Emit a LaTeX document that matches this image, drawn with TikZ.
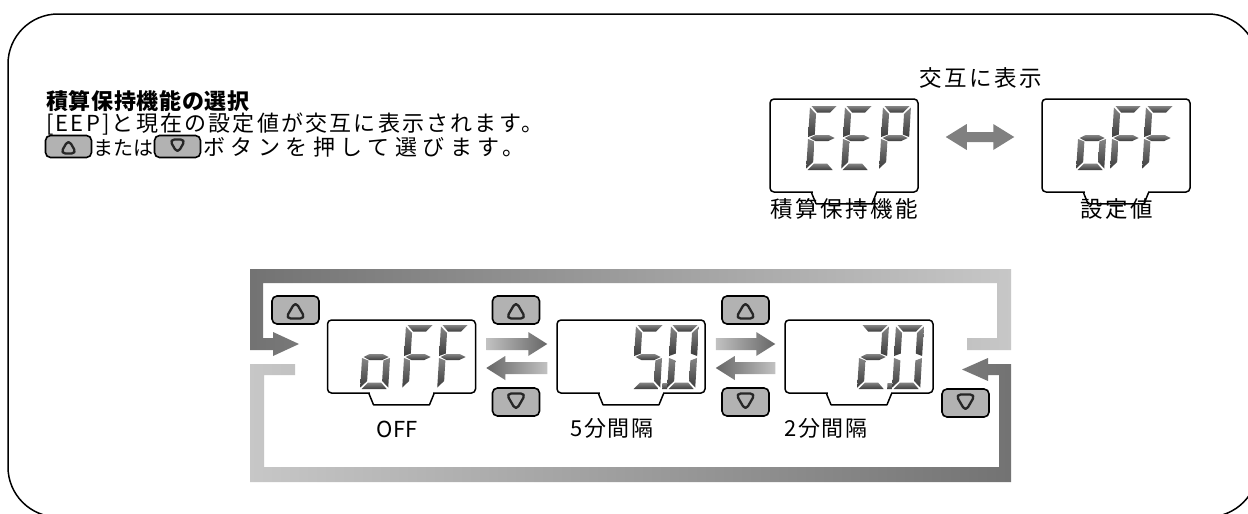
\documentclass[tikz,border=0pt]{standalone}
\usepackage{fontspec}
\setmainfont{Noto Sans CJK JP}
\usetikzlibrary{calc}

\colorlet{loopdark}{black!55}
\colorlet{looplight}{black!22}
\colorlet{arrdark}{black!60}
\colorlet{arrlight}{black!24}
\colorlet{btnfill}{black!30}

% seven segment pieces (px, y downwards)
\def\sega{(1.5,0) -- (26.5,0) -- (20.5,6.5) -- (7.5,6.5) -- cycle}
\def\segb{(28,1.5) -- (21.5,8) -- (21.5,28.5) -- (28,31) -- cycle}
\def\segc{(28,33) -- (21.5,35.5) -- (21.5,56) -- (28,62.5) -- cycle}
\def\segd{(1.5,64) -- (26.5,64) -- (20.5,57.5) -- (7.5,57.5) -- cycle}
\def\sege{(0,33) -- (6.5,35.5) -- (6.5,56) -- (0,62.5) -- cycle}
\def\segf{(0,1.5) -- (6.5,8) -- (6.5,28.5) -- (0,31) -- cycle}
\def\segg{(1.5,32) -- (7.5,29) -- (20.5,29) -- (26.5,32) -- (20.5,35) -- (7.5,35) -- cycle}
\def\segp{(30,58) rectangle (35,64)}
\newcommand{\segdraw}[1]{\path[seg] #1;}
\newcommand{\lcddigit}[3]{%
  \begin{scope}[shift={(#1,#2)}, xslant=0.06]
    \foreach \s in {#3} {\expandafter\segdraw\csname seg\s\endcsname}
  \end{scope}}

% tab under a display
\newcommand{\lcdtab}[1]{%
  \fill[white] ([xshift=-31.5pt,yshift=1.5pt]#1.south) rectangle ([xshift=31.5pt,yshift=-2pt]#1.south);
  \draw[lcdline] ([xshift=-32.5pt]#1.south) -- ++(4.5pt,-11pt) -- ++(56pt,0pt) -- ++(4.5pt,11pt);}

% block arrows between displays
\newcommand{\rarrow}[2]{%
  \shade[left color=arrlight, right color=arrdark]
    let \p1=(#1.east), \p2=(#2.west) in
    ({\x1+10pt},{\y1+18.5pt}) -- ({\x2-28pt},{\y1+18.5pt}) -- ({\x2-28pt},{\y1+24.5pt})
    -- ({\x2-9pt},{\y1+12.5pt}) -- ({\x2-28pt},{\y1+0.5pt}) -- ({\x2-28pt},{\y1+6.5pt})
    -- ({\x1+10pt},{\y1+6.5pt}) -- cycle;}
\newcommand{\larrow}[2]{%
  \shade[left color=arrdark, right color=arrlight]
    let \p1=(#1.east), \p2=(#2.west) in
    ({\x2-9pt},{\y1-5.5pt}) -- ({\x1+29pt},{\y1-5.5pt}) -- ({\x1+29pt},{\y1+0.5pt})
    -- ({\x1+10pt},{\y1-11.5pt}) -- ({\x1+29pt},{\y1-23.5pt}) -- ({\x1+29pt},{\y1-17.5pt})
    -- ({\x2-9pt},{\y1-17.5pt}) -- cycle;}

\tikzset{
  seg/.style={shading=axis, top color=black!48, bottom color=black!76},
  lcdline/.style={line width=1.5pt, black, line join=round},
  lcd/.style={draw, lcdline, fill=white, rounded corners=4pt, inner sep=0pt,
    minimum width=148pt, minimum height=73pt},
  tri/.style={line width=2.3pt, black!85, line join=round},
  btn/.style={draw=black, line width=1.6pt, fill=btnfill, rounded corners=5pt,
    inner sep=0pt, minimum width=47pt, minimum height=28pt},
  btnup/.style={btn, path picture={\draw[tri] ([yshift={0.5*#1pt}]path picture bounding box.center)
    -- ++({-0.58*#1pt},{-#1pt}) -- ++({1.16*#1pt},0pt) -- cycle;}},
  btnup/.default=17,
  btndn/.style={btn, path picture={\draw[tri] ([yshift={-0.5*#1pt}]path picture bounding box.center)
    -- ++({-0.58*#1pt},{#1pt}) -- ++({1.16*#1pt},0pt) -- cycle;}},
  btndn/.default=17,
  title/.style={font=\bfseries\fontsize{22}{26}\selectfont\addfontfeature{LetterSpace=3},
    anchor=base west, inner sep=0pt},
  body/.style={font=\fontsize{22}{26}\selectfont\addfontfeature{LetterSpace=10},
    anchor=base west, inner sep=0pt},
  lbl/.style={font=\fontsize{22.5}{27}\selectfont\addfontfeature{LetterSpace=11},
    anchor=base, inner sep=0pt},
  sublbl/.style={font=\fontsize{22}{26}\selectfont\addfontfeature{LetterSpace=6},
    anchor=base, inner sep=0pt}
}

\begin{document}
\begin{tikzpicture}[x=1pt, y=-1pt]
  \clip (0,0) rectangle (1248,514);
  \fill[white] (0,0) rectangle (1248,514);
  % outer frame
  \draw[line width=1.5pt, rounded corners=50pt] (8,14) rectangle (1258,517);

  % --- explanation text ---
  \node[title] (ttl) at (46,109) {積算保持機能の選択};
  \node[body] (line2) at (46,131.5) {[EEP]と現在の設定値が交互に表示されます。};
  \node[btnup=14, minimum width=46pt, minimum height=22pt] (keyup) at (68.5,146.5) {};
  \node[body, font=\fontsize{20}{24}\selectfont] (oder) at (93,155) {または};
  \node[btndn=14, minimum width=46pt, minimum height=22pt] (keydn) at (177.5,146.5) {};
  \node[body, font=\fontsize{22}{26}\selectfont\addfontfeature{LetterSpace=25}] (line3) at (203,155) {ボタンを押して選びます。};

  % --- alternating display ---
  \node[lbl] (alt) at (981,86.5) {交互に表示};
  \node[lcd, minimum height=93pt] (lcdeep) at (844,145.5) {};
  \node[lcd, minimum height=93pt] (lcdset) at (1116,145.5) {};
  \lcdtab{lcdeep}
  \lcdtab{lcdset}
  \node[lbl] (eeplbl) at (844,217.5) {積算保持機能};
  \node[lbl] (setlbl) at (1117,217.5) {設定値};
  \shade[left color=black!50, middle color=black!10, right color=black!50]
    let \p1=(lcdeep.east), \p2=(lcdset.west) in
    ({\x1+27pt},{\y1+8.5pt}) -- ({\x1+48pt},{\y1+21.5pt}) -- ({\x1+48pt},{\y1+13.5pt})
    -- ({\x2-48pt},{\y1+13.5pt}) -- ({\x2-48pt},{\y1+21.5pt}) -- ({\x2-27pt},{\y1+8.5pt})
    -- ({\x2-48pt},{\y1-4.5pt}) -- ({\x2-48pt},{\y1+3.5pt}) -- ({\x1+48pt},{\y1+3.5pt})
    -- ({\x1+48pt},{\y1-4.5pt}) -- cycle;

  % --- selection loop ---
  \shade[left color=loopdark, right color=looplight]
    (967,338) -- (997,338) -- (997,283) -- (263,283) -- (263,338) -- (273,338)
    -- (273,332) -- (299,344) -- (273,356) -- (273,350) -- (250,350) -- (250,269)
    -- (1011,269) -- (1011,350) -- (967,350) -- cycle;
  \shade[left color=looplight, right color=loopdark]
    (295,364) -- (250,364) -- (250,482) -- (1011,482) -- (1011,364) -- (988,364)
    -- (988,358) -- (962,369.5) -- (988,381) -- (988,375) -- (999,375) -- (999,467)
    -- (264,467) -- (264,375) -- (295,375) -- cycle;

  \node[lcd] (lcdoff) at (401.5,356.5) {};
  \node[lcd] (lcdfive) at (631,356.5) {};
  \node[lcd] (lcdtwo) at (859,356.5) {};
  \lcdtab{lcdoff}
  \lcdtab{lcdfive}
  \lcdtab{lcdtwo}
  \rarrow{lcdoff}{lcdfive}
  \larrow{lcdoff}{lcdfive}
  \rarrow{lcdfive}{lcdtwo}
  \larrow{lcdfive}{lcdtwo}

  \node[btnup] (upoff) at (295.5,310) {};
  \node[btnup] (upfive) at (516,310) {};
  \node[btnup] (uptwo) at (745.5,310) {};
  \node[btndn] (dnfive) at (516,402) {};
  \node[btndn] (dntwo) at (745.5,402) {};
  \node[btndn] (dnoff) at (965.5,403) {};

  \node[sublbl, font=\fontsize{22}{26}\selectfont] (offlbl) at (397,437) {OFF};
  \node[sublbl] (fivelbl) at (612,436.5) {5分間隔};
  \node[sublbl] (twolbl) at (826,436.5) {2分間隔};

  % --- digits ---
  \lcddigit{810}{106}{a,d,e,f,g}
  \lcddigit{845}{106}{a,d,e,f,g}
  \lcddigit{883}{106}{a,b,e,f,g}
  \lcddigit{1080}{106}{c,d,e,g}
  \lcddigit{1114}{106}{a,e,f,g}
  \lcddigit{1146}{106}{a,e,f,g}
  \lcddigit{364}{325}{c,d,e,g}
  \lcddigit{406}{325}{a,e,f,g}
  \lcddigit{441}{325}{a,e,f,g}
  \lcddigit{636}{325}{a,c,d,f,g,p}
  \lcddigit{671}{325}{a,b,c,d,e,f}
  \lcddigit{861}{325}{a,b,d,e,g,p}
  \lcddigit{896}{325}{a,b,c,d,e,f}
\end{tikzpicture}
\end{document}
